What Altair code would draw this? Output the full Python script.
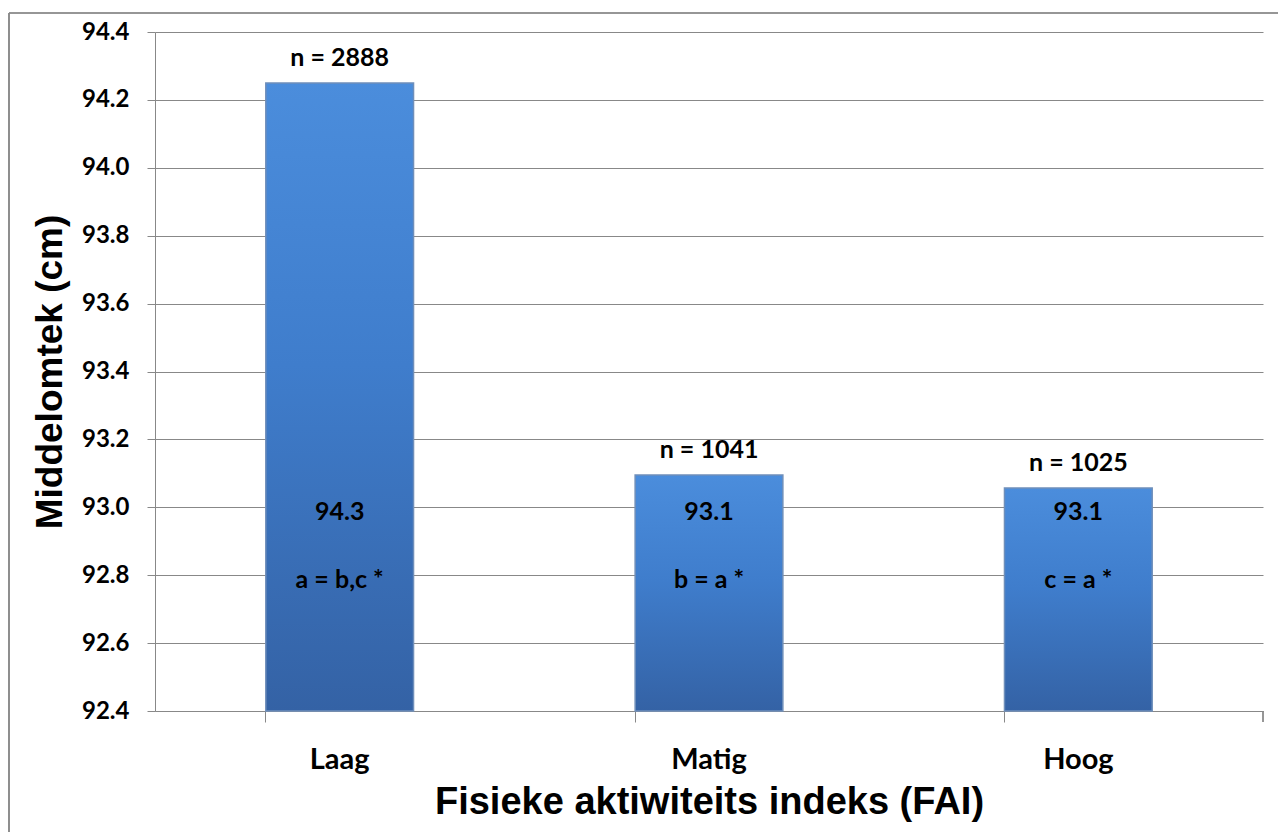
import altair as alt
import pandas as pd

# Waist circumference by physical activity index group
groups = ["Laag", "Matig", "Hoog"]
mean_waist = [94.25, 93.095, 93.057]
sample_n = [2888, 1041, 1025]
contrast = ["a = b,c *", "b = a *", "c = a *"]
y_ticks = [92.4, 92.6, 92.8, 93.0, 93.2, 93.4, 93.6, 93.8, 94.0, 94.2, 94.4]
y_floor = 92.4

df = pd.DataFrame({"groep": groups, "waarde": mean_waist, "n": sample_n, "kontras": contrast})

W, H = 1108, 679
LABEL_FONT = "Lato"
TITLE_FONT = "Liberation Sans"

x_enc = alt.X(
    "groep:N",
    sort=groups,
    scale=alt.Scale(paddingInner=0.6, paddingOuter=0.3),
    axis=alt.Axis(
        title="Fisieke aktiwiteits indeks (FAI)",
        titleFont=TITLE_FONT, titleFontSize=38, titleFontWeight="bold",
        titleColor="black", titlePadding=9,
        labelFont=LABEL_FONT, labelFontSize=29, labelFontWeight="bold",
        labelColor="black", labelAngle=0, labelPadding=23,
        bandPosition=0, tickSize=11, tickColor="#888888",
        domainColor="#888888", grid=False,
    ),
)

y_scale = alt.Scale(domain=[y_floor, 94.4], zero=False, nice=False)

bars = alt.Chart(df).mark_bar(
    fill=alt.Gradient(
        gradient="linear",
        stops=[
            alt.GradientStop(color="#4b8ddc", offset=0),
            alt.GradientStop(color="#3f7dcc", offset=0.45),
            alt.GradientStop(color="#3462a5", offset=1),
        ],
        x1=0, x2=0, y1=0, y2=1,
    ),
    stroke="#6f8fba",
    strokeWidth=1.5,
).encode(
    x=x_enc,
    y=alt.Y(
        "waarde:Q",
        scale=y_scale,
        axis=alt.Axis(
            title="Middelomtek (cm)",
            titleFont=TITLE_FONT, titleFontSize=37, titleFontWeight="bold",
            titleColor="black", titlePadding=12,
            labelFont=LABEL_FONT, labelFontSize=24, labelFontWeight="bold",
            labelColor="black", labelPadding=18,
            values=y_ticks, format=".1f",
            tickSize=8, tickColor="#888888", domainColor="#888888",
            gridColor="#888888", gridWidth=1,
        ),
    ),
    y2=alt.datum(y_floor),
)

n_labels = alt.Chart(df).transform_calculate(
    etiket="'n = ' + datum.n"
).mark_text(
    font=LABEL_FONT, fontSize=25, fontWeight="bold", color="black", dy=-25
).encode(
    x=alt.X("groep:N", sort=groups),
    y=alt.Y("waarde:Q"),
    text="etiket:N",
)

value_labels = alt.Chart(df).mark_text(
    font=LABEL_FONT, fontSize=25, fontWeight="bold", color="black"
).encode(
    x=alt.X("groep:N", sort=groups),
    y=alt.datum(92.986),
    text=alt.Text("waarde:Q", format=".1f"),
)

contrast_labels = alt.Chart(df).mark_text(
    font=LABEL_FONT, fontSize=25, fontWeight="bold", color="black"
).encode(
    x=alt.X("groep:N", sort=groups),
    y=alt.datum(92.786),
    text="kontras:N",
)

# closing tick at the right end of the category axis
end_tick = alt.Chart(df).mark_rule(color="#888888", strokeWidth=1).encode(
    x=alt.value(W), y=alt.value(H), y2=alt.value(H + 11)
)

# outer chart frame
frame_top = alt.Chart(df).mark_rule(color="#888888", strokeWidth=1.2).encode(
    x=alt.value(-146), x2=alt.value(W + 40), y=alt.value(-19)
)
frame_left = alt.Chart(df).mark_rule(color="#888888", strokeWidth=1.2).encode(
    x=alt.value(-146), y=alt.value(-19), y2=alt.value(H + 200)
)

chart = alt.layer(
    bars, n_labels, value_labels, contrast_labels, end_tick, frame_top, frame_left
).properties(
    width=W, height=H,
    padding={"left": 155, "top": 32, "right": 15, "bottom": 121},
    autosize=alt.AutoSizeParams(type="none"),
    background="white",
).configure_view(stroke=None)

chart.save("out.html", embed_options={"renderer": "svg", "actions": False})
